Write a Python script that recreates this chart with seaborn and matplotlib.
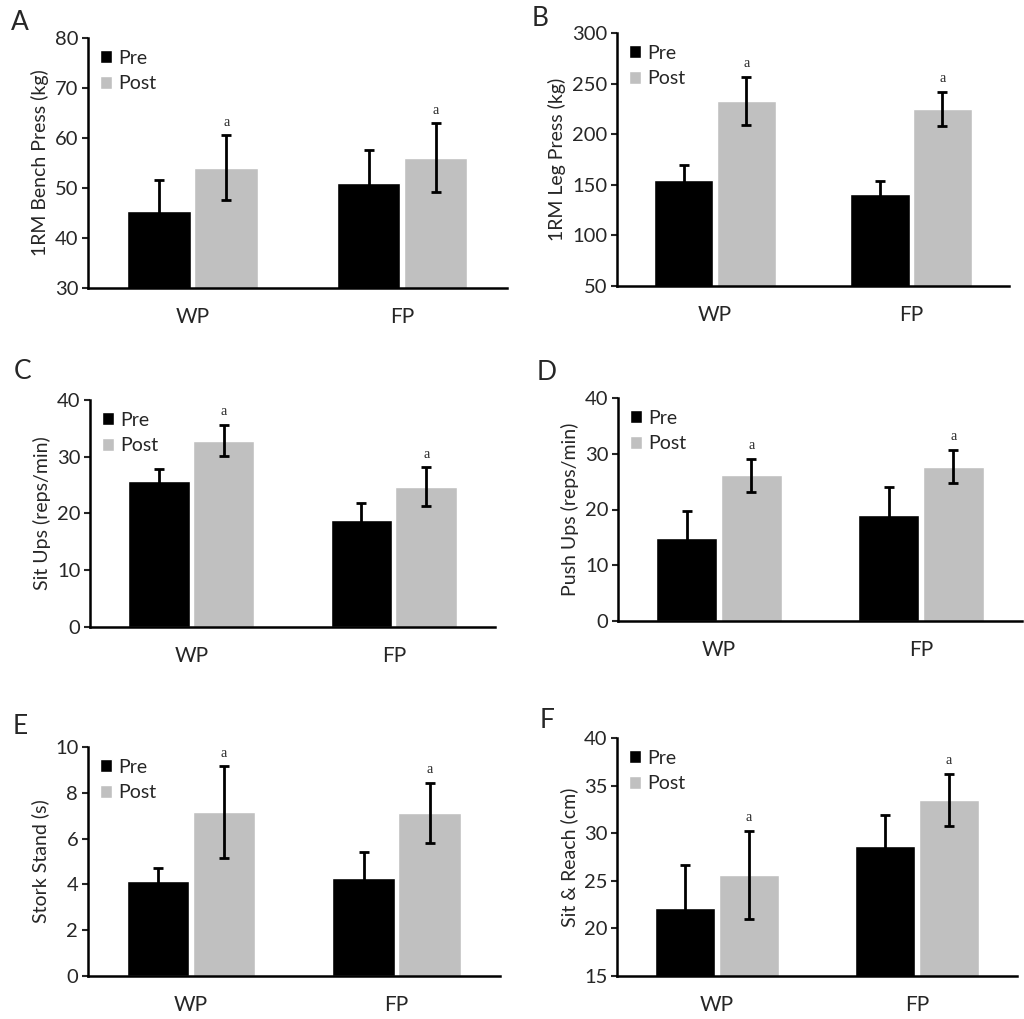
import matplotlib
matplotlib.use('Agg')
import matplotlib.pyplot as plt
import seaborn as sns
import pandas as pd
import numpy as np

groups = ['WP', 'FP']
times = ['Pre', 'Post']

# means and SEM
bench_pre = [45.4, 51.0]
bench_pre_err = [6.1, 6.6]
bench_post = [54.0, 56.0]
bench_post_err = [6.5, 6.9]

leg_pre = [155.0, 141.0]
leg_pre_err = [15.0, 13.0]
leg_post = [233.0, 225.0]
leg_post_err = [24.0, 16.5]

situp_pre = [25.7, 18.8]
situp_pre_err = [2.1, 3.0]
situp_post = [32.8, 24.7]
situp_post_err = [2.75, 3.4]

pushup_pre = [14.8, 19.0]
pushup_pre_err = [5.0, 5.0]
pushup_post = [26.1, 27.7]
pushup_post_err = [2.95, 2.9]

stork_pre = [4.15, 4.27]
stork_pre_err = [0.55, 1.15]
stork_post = [7.15, 7.12]
stork_post_err = [2.0, 1.3]

reach_pre = [22.1, 28.7]
reach_pre_err = [4.6, 3.2]
reach_post = [25.6, 33.5]
reach_post_err = [4.65, 2.7]

panels = [
    ('A', '1RM Bench Press (kg)', bench_pre, bench_pre_err, bench_post, bench_post_err, (30, 80), 10,
     [0.0859, 0.7174, 0.409, 0.2453], (20, 22)),
    ('B', '1RM Leg Press (kg)', leg_pre, leg_pre_err, leg_post, leg_post_err, (50, 300), 50,
     [0.6025, 0.7193, 0.383, 0.2483], (540, 18)),
    ('C', 'Sit Ups (reps/min)', situp_pre, situp_pre_err, situp_post, situp_post_err, (0, 40), 10,
     [0.0879, 0.3847, 0.3955, 0.2228], (23, 372)),
    ('D', 'Push Ups (reps/min)', pushup_pre, pushup_pre_err, pushup_post, pushup_post_err, (0, 40), 10,
     [0.6035, 0.3906, 0.3945, 0.2188], (547, 373)),
    ('E', 'Stork Stand (s)', stork_pre, stork_pre_err, stork_post, stork_post_err, (0, 10), 2,
     [0.0859, 0.0422, 0.402, 0.2247], (20, 727)),
    ('F', 'Sit & Reach (cm)', reach_pre, reach_pre_err, reach_post, reach_post_err, (15, 40), 5,
     [0.6025, 0.0422, 0.3906, 0.2336], (547, 720)),
]

sns.set_style('white')
plt.rcParams['font.family'] = ['Lato', 'DejaVu Sans']

W, H = 1024, 1019
fig = plt.figure(figsize=(W / 100, H / 100), dpi=100)

for letter, ylabel, pre, pre_err, post, post_err, ylim, step, rect, lpos in panels:
    ax = fig.add_axes(rect)
    df = pd.DataFrame({
        'group': groups * 2,
        'time': ['Pre'] * 2 + ['Post'] * 2,
        'value': list(pre) + list(post),
    })
    sns.barplot(data=df, x='group', y='value', hue='time', order=groups, hue_order=times,
                palette=['black', '#c0c0c0'], width=0.64, gap=0.05, errorbar=None,
                saturation=1, ax=ax)

    for cont, err, col in zip(ax.containers, [pre_err, post_err], times):
        xs = [p.get_x() + p.get_width() / 2 for p in cont.patches]
        ys = [p.get_height() for p in cont.patches]
        ax.errorbar(xs, ys, yerr=err, fmt='none', ecolor='black', elinewidth=2.0,
                    capsize=3.5, capthick=2.0, zorder=5)
        if col == 'Post':
            for x, y, e in zip(xs, ys, err):
                ax.annotate('a', (x, y + e), xytext=(0, 5), textcoords='offset points',
                            ha='center', va='bottom', fontsize=10, family='Liberation Serif')

    ax.set_xlim(-0.5, 1.5)
    ax.set_ylim(*ylim)
    ax.set_yticks(np.arange(ylim[0], ylim[1] + step / 2, step))
    ax.set_xlabel('')
    ax.set_ylabel(ylabel, fontsize=14)
    ax.tick_params(axis='y', left=True, length=4, width=1.5, labelsize=14.5, pad=3)
    ax.tick_params(axis='x', bottom=False, labelsize=15, pad=10)
    for s in ['top', 'right']:
        ax.spines[s].set_visible(False)
    for s in ['left', 'bottom']:
        ax.spines[s].set_linewidth(1.8)
        ax.spines[s].set_color('black')

    ax.legend(loc='upper left', frameon=False, fontsize=14, handlelength=0.65,
              handleheight=0.65, handletextpad=0.3, labelspacing=0.45,
              borderaxespad=0.3, borderpad=0.3)

    fig.text(lpos[0] / W, 1 - lpos[1] / H, letter, fontsize=19, ha='center', va='center')

fig.savefig('out.png', dpi=100)
